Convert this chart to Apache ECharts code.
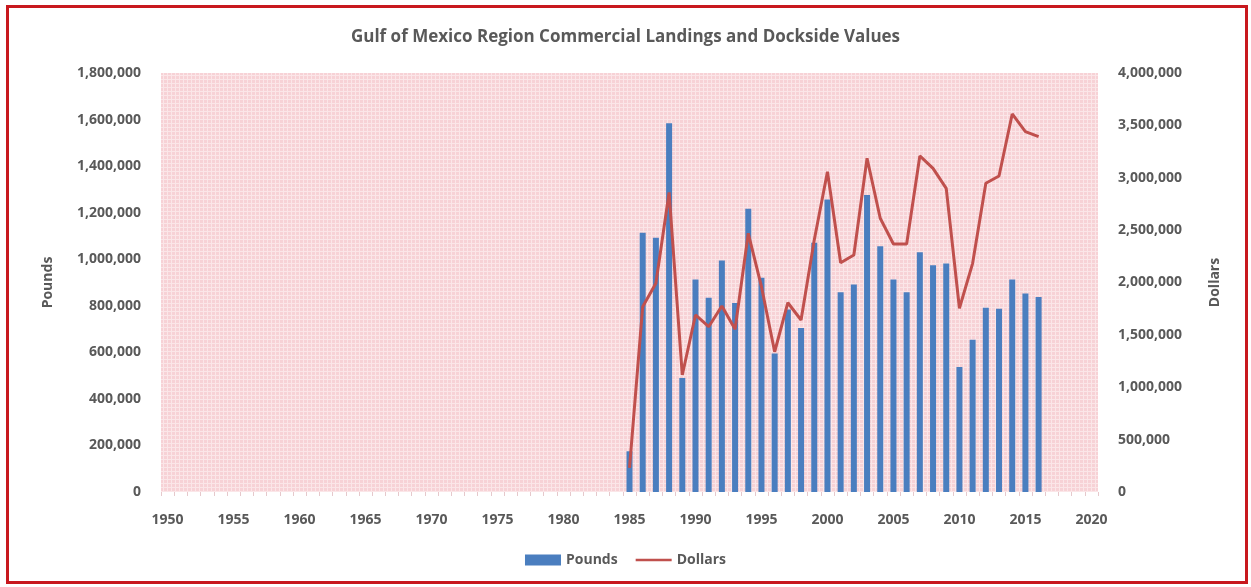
<!DOCTYPE html>
<html><head><meta charset="utf-8">
<script src="https://cdn.jsdelivr.net/npm/echarts@6/dist/echarts.min.js"></script>
<style>
html,body{margin:0;padding:0;background:#fff;}
#frame{position:absolute;left:6px;top:5px;width:1236px;height:573px;border:3px solid #c8181e;box-sizing:content-box;}
#chart{position:absolute;left:0;top:0;width:1251px;height:587px;}
</style></head>
<body>
<div id="frame"></div>
<div id="chart"></div>
<script>
const title = 'Gulf of Mexico Region Commercial Landings and Dockside Values';
const axisStartYear = 1950;
const axisEndYear = 2020;
const dataYears = [1985,1986,1987,1988,1989,1990,1991,1992,1993,1994,1995,1996,1997,1998,1999,2000,2001,2002,2003,2004,2005,2006,2007,2008,2009,2010,2011,2012,2013,2014,2015,2016];
const pounds = [175000,1114000,1092000,1584000,490000,913000,834000,995000,812000,1217000,920000,595000,784000,705000,1071000,1257000,858000,891000,1276000,1056000,913000,858000,1030000,974000,982000,537000,654000,791000,787000,913000,853000,838000];
const dollars = [230000,1769000,1992000,2860000,1117000,1690000,1578000,1776000,1553000,2470000,1960000,1339000,1807000,1642000,2406000,3058000,2189000,2262000,3186000,2613000,2368000,2368000,3208000,3090000,2899000,1754000,2183000,2947000,3017000,3609000,3440000,3392000];

const categories = [];
for (let y = axisStartYear; y <= axisEndYear; y++) categories.push(String(y));
const poundsSeries = categories.map(c => { const i = dataYears.indexOf(+c); return i >= 0 ? pounds[i] : null; });
const dollarsSeries = categories.map(c => { const i = dataYears.indexOf(+c); return i >= 0 ? dollars[i] : null; });

// pink grid pattern
const pc = document.createElement('canvas');
pc.width = 4; pc.height = 4;
const g = pc.getContext('2d');
g.fillStyle = '#f7d2d6'; g.fillRect(0,0,4,4);
g.fillStyle = '#fbe6e8'; g.fillRect(3,0,1,4); g.fillRect(0,3,4,1);

const txt = '#595959';
const font = '"Open Sans", "DejaVu Sans", sans-serif';
const fmt = v => v.toLocaleString('en-US');

const chart = echarts.init(document.getElementById('chart'), null, {renderer:'canvas'});
chart.setOption({
  animation:false,
  backgroundColor:'transparent',
  textStyle:{fontFamily:font},
  title:{text:title, left:'center', top:24, textStyle:{fontSize:17, fontWeight:'bold', color:txt, fontFamily:font}},
  grid:{left:161, right:153, top:73, bottom:95, show:true, borderWidth:0, backgroundColor:{image:pc, repeat:'repeat'}},
  legend:{bottom:15, left:'center', itemGap:18, itemWidth:36, itemHeight:11, symbolKeepAspect:true,
    textStyle:{fontSize:14, fontWeight:'bold', color:txt, fontFamily:font},
    data:[{name:'Pounds', icon:'rect'},{name:'Dollars', icon:'path://M0,0 L40,0 L40,3 L0,3 Z'}]},
  xAxis:{type:'category', data:categories, boundaryGap:true,
    axisLine:{show:false},
    axisTick:{show:true, interval:0, length:4, alignWithLabel:false, lineStyle:{color:'#e6c9cc'}},
    axisLabel:{interval:4, margin:21, fontSize:14, fontWeight:'bold', color:txt, fontFamily:font},
    splitLine:{show:false}},
  yAxis:[
    {type:'value', min:0, max:1800000, interval:200000, name:'Pounds', nameLocation:'middle', nameGap:106, nameRotate:90,
     nameTextStyle:{fontSize:14, fontWeight:'bold', color:txt, fontFamily:font},
     axisLine:{show:false}, axisTick:{show:false}, splitLine:{show:false},
     axisLabel:{margin:20, fontSize:14, fontWeight:'bold', color:txt, fontFamily:font, formatter:fmt}},
    {type:'value', min:0, max:4000000, interval:500000, name:'Dollars', nameLocation:'middle', nameGap:110, nameRotate:90,
     nameTextStyle:{fontSize:14, fontWeight:'bold', color:txt, fontFamily:font},
     axisLine:{show:false}, axisTick:{show:false}, splitLine:{show:false},
     axisLabel:{margin:20, fontSize:14, fontWeight:'bold', color:txt, fontFamily:font, formatter:fmt}}
  ],
  series:[
    {name:'Pounds', type:'bar', yAxisIndex:0, data:poundsSeries, barWidth:6, itemStyle:{color:'#4a7ebf'}},
    {name:'Dollars', type:'line', yAxisIndex:1, data:dollarsSeries, showSymbol:false, symbol:'none', connectNulls:false,
     lineStyle:{color:'#c0504d', width:3}, itemStyle:{color:'#c0504d'}}
  ]
});
</script>
</body></html>
